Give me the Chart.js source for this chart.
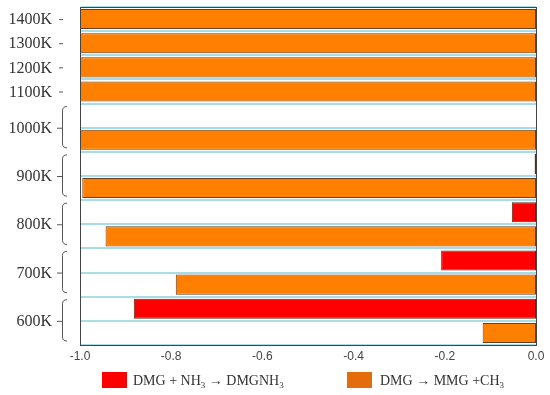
<!DOCTYPE html>
<html>
<head>
<meta charset="utf-8">
<script src="https://cdn.jsdelivr.net/npm/chart.js@4/dist/chart.umd.min.js"></script>
<style>
  body { margin: 0; background: #fff; }
  #wrap { position: relative; width: 550px; height: 395px; }
  .leg { position: absolute; font-family: "Liberation Serif", "Times New Roman", serif; font-size: 14px; color: #333; line-height: 16px; white-space: nowrap; }
  .leg sub { font-size: 9px; vertical-align: -3px; line-height: 0; }
  .sw { position: absolute; width: 25px; height: 16px; }
</style>
</head>
<body>
<div id="wrap">
  <canvas id="myChart" width="550" height="395"></canvas>
  <div class="sw" style="left:102px;top:372px;background:#ff0000"></div>
  <div class="leg" style="left:133px;top:373px">DMG + NH<sub>3</sub> &rarr; DMGNH<sub>3</sub></div>
  <div class="sw" style="left:347px;top:372px;background:#e46c0a"></div>
  <div class="leg" style="left:380px;top:373px">DMG &rarr; MMG +CH<sub>3</sub></div>
</div>
<script>
// values
const temperatures = ['600K', '700K', '800K', '900K', '1000K', '1100K', '1200K', '1300K', '1400K'];
const nh3Addition = [-0.882, -0.208, -0.053, -0.003, 0, null, null, null, null]; // DMG + NH3 -> DMGNH3
const ch3Loss = [-0.117, -0.79, -0.944, -0.995, -1.0, -1.0, -1.0, -1.0, -1.0];   // DMG -> MMG + CH3
const xTicks = [-1.0, -0.8, -0.6, -0.4, -0.2, 0.0];

// one row per bar, top to bottom
const rows = [];
for (let i = temperatures.length - 1; i >= 0; i--) {
  if (nh3Addition[i] !== null) {
    rows.push({ temp: temperatures[i], kind: 'nh3', red: nh3Addition[i], orange: null });
  }
  rows.push({ temp: temperatures[i], kind: 'ch3', red: null, orange: ch3Loss[i] });
}

const labelPlugin = {
  id: 'tempLabels',
  afterDraw(chart) {
    const ctx = chart.ctx;
    const y = chart.scales.y;
    const area = chart.chartArea;
    const slot = Math.abs(y.getPixelForValue(1) - y.getPixelForValue(0));
    ctx.save();
    // frame round the plot
    ctx.strokeStyle = '#444';
    ctx.lineWidth = 1;
    ctx.strokeRect(area.left + 0.5, area.top + 0.5, area.right - area.left, area.bottom - area.top);

    ctx.font = '16px "Liberation Serif", "Times New Roman", serif';
    ctx.fillStyle = '#333';
    ctx.textAlign = 'right';
    ctx.textBaseline = 'middle';
    ctx.strokeStyle = '#555';
    temperatures.forEach(t => {
      const idx = [];
      rows.forEach((r, k) => { if (r.temp === t) idx.push(k); });
      const p0 = y.getPixelForValue(idx[0]);
      const p1 = y.getPixelForValue(idx[idx.length - 1]);
      const mid = (p0 + p1) / 2;
      ctx.fillText(t, 52, mid + 1);
      ctx.beginPath();
      if (idx.length === 1) {
        ctx.moveTo(59, mid + 0.5);
        ctx.lineTo(63, mid + 0.5);
      } else {
        const top = p0 - slot / 2 + 3;
        const bot = p1 + slot / 2 - 4;
        ctx.moveTo(67, top);
        ctx.quadraticCurveTo(62.5, top, 62.5, top + 4);
        ctx.lineTo(62.5, bot - 4);
        ctx.quadraticCurveTo(62.5, bot, 67, bot);
        ctx.moveTo(57, mid + 0.5);
        ctx.lineTo(62.5, mid + 0.5);
      }
      ctx.stroke();
    });
    ctx.restore();
  }
};

const ctx = document.getElementById('myChart').getContext('2d');
const myChart = new Chart(ctx, {
  type: 'bar',
  data: {
    labels: rows.map(r => r.temp + ' ' + r.kind),
    datasets: [
      {
        label: 'DMG + NH\u2083 \u2192 DMGNH\u2083',
        data: rows.map(r => r.red),
        backgroundColor: '#ff0000',
        borderColor: '#5e2a14',
        borderWidth: 1,
        borderSkipped: false,
        barPercentage: 0.83,
        categoryPercentage: 1
      },
      {
        label: 'DMG \u2192 MMG +CH\u2083',
        data: rows.map(r => r.orange),
        backgroundColor: '#ff8000',
        borderColor: '#6b3c1e',
        borderWidth: 1,
        borderSkipped: false,
        barPercentage: 0.83,
        categoryPercentage: 1
      }
    ]
  },
  options: {
    indexAxis: 'y',
    responsive: false,
    animation: false,
    layout: { padding: { left: 0, right: 14, top: 7, bottom: 0 } },
    plugins: {
      legend: { display: false },
      tooltip: { enabled: false }
    },
    scales: {
      x: {
        stacked: true,
        min: -1,
        max: 0,
        afterBuildTicks: scale => { scale.ticks = xTicks.map(v => ({ value: v })); },
        afterFit: scale => { scale.height = 50; },
        grid: { display: false, drawTicks: false },
        border: { display: true, color: '#333', width: 1 },
        ticks: {
          padding: 4,
          color: '#444',
          font: { family: '"Liberation Sans", Arial, sans-serif', size: 12 },
          callback: value => Number(value).toFixed(1)
        }
      },
      y: {
        stacked: true,
        afterFit: scale => { scale.width = 80; },
        grid: { offset: true, color: '#a9dde6', lineWidth: 2, drawTicks: false },
        border: { display: true, color: '#666', width: 1 },
        ticks: { display: false }
      }
    }
  },
  plugins: [labelPlugin]
});
</script>
</body>
</html>
